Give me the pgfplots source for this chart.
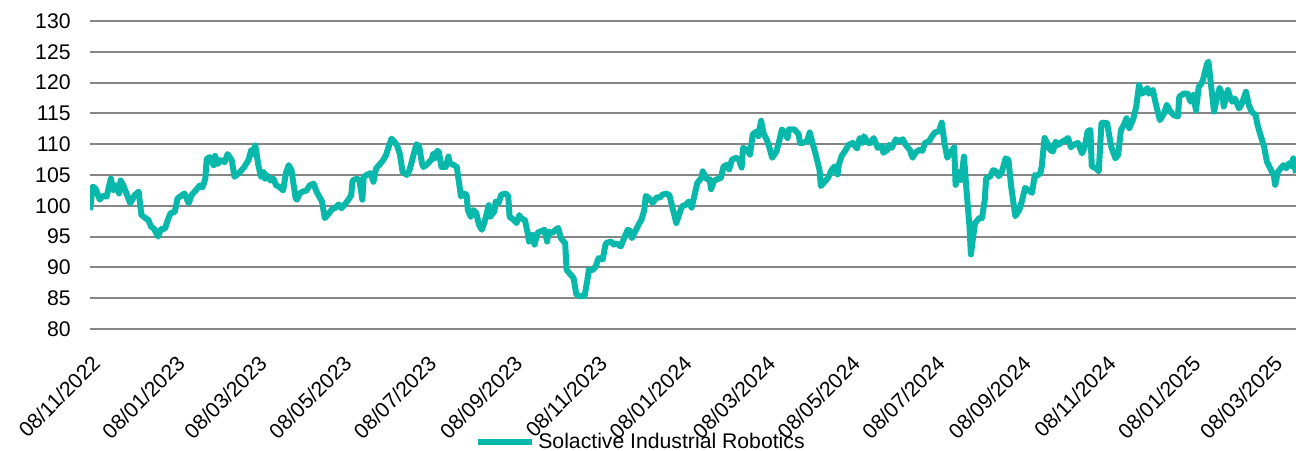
\documentclass[border=0pt]{standalone}
\usepackage{pgfplots}
\pgfplotsset{compat=1.18}
\usepackage{fontspec}
\setmainfont{Liberation Sans}
\definecolor{lineteal}{RGB}{8,184,171}
\definecolor{gridgray}{RGB}{134,134,134}
\begin{document}
\fontsize{10.6pt}{12pt}\selectfont
\begin{tikzpicture}
\begin{axis}[
  scale only axis,
  width=603pt, height=154pt,
  xmin=0, xmax=868, ymin=80, ymax=130,
  ytick={80,85,...,130},
  xtick={0,61,120,181,242,304,365,426,486,547,608,670,731,792,851},
  xticklabels={08/11/2022,08/01/2023,08/03/2023,08/05/2023,08/07/2023,08/09/2023,08/11/2023,08/01/2024,08/03/2024,08/05/2024,08/07/2024,08/09/2024,08/11/2024,08/01/2025,08/03/2025},
  ymajorgrids,
  grid style={gridgray, line width=1pt},
  axis line style={draw=none},
  major tick length=0pt,
  /pgf/number format/assume math mode=true,
  tick label style={font=\fontsize{10.6pt}{12pt}\selectfont},
  yticklabel style={anchor=east, inner sep=0pt, xshift=-9.5pt},
  xticklabel style={rotate=45, anchor=east, inner sep=0pt, yshift=-13pt, xshift=-8.5pt},
  legend style={draw=none, fill=none, at={(0.3192,-0.367)}, anchor=west, inner sep=0pt,
    font=\fontsize{10.6pt}{12pt}\selectfont, nodes={inner sep=1.5pt}},
  legend image code/.code={\draw[#1, line width=3pt] (0pt,0pt) -- (27pt,0pt);},
]
\addplot[lineteal, line width=3pt, line join=round] table {
0 99.3
2 103.1
4 102.8
7 101.0
9 101.6
12 101.5
15 104.4
17 102.5
19 103.3
21 102.0
22 104.1
24 103.3
29 100.4
32 101.7
35 102.3
37 98.5
40 98.0
42 97.7
44 96.6
46 96.3
49 95.0
51 96.2
54 96.3
56 97.7
58 98.8
61 99.0
63 101.2
66 101.7
68 102.0
71 100.4
73 101.7
76 102.5
79 103.3
81 103.0
83 104.4
84 107.6
86 107.9
89 106.6
90 108.1
92 106.8
94 107.4
97 107.1
99 108.4
102 107.4
104 104.7
108 105.5
111 106.3
114 107.4
116 109.0
117 108.4
119 109.8
121 106.8
123 104.7
125 105.5
126 104.4
127 105.0
130 104.1
132 104.4
134 103.3
136 103.1
139 102.5
141 105.3
143 106.6
145 105.8
148 101.2
149 101.0
151 102.0
153 102.3
156 102.5
158 103.3
161 103.6
163 102.3
165 101.5
167 100.7
169 98.0
171 98.5
174 99.4
176 99.6
179 100.2
181 99.6
184 100.4
186 101.0
188 101.7
189 104.1
192 104.4
194 104.1
196 101.0
197 104.7
199 105.0
202 105.3
204 103.9
206 106.1
208 106.6
211 107.4
213 108.2
215 109.6
217 110.9
219 110.4
221 109.8
223 108.4
225 105.5
228 105.0
230 105.8
233 108.4
235 110.0
237 109.5
239 106.8
240 106.3
243 106.8
246 107.6
247 108.4
248 107.7
250 108.9
251 108.8
253 106.3
256 106.3
258 108.0
259 106.9
262 106.6
264 106.3
266 103.1
267 101.5
269 102.0
271 101.8
272 99.3
274 98.2
276 99.3
278 98.8
280 96.9
282 96.1
284 97.4
287 100.1
288 98.2
291 99.1
292 100.7
294 100.4
296 101.8
299 102.0
301 101.6
302 98.2
305 97.7
307 97.2
309 98.5
310 98.0
313 97.7
315 95.6
316 94.2
318 95.3
320 93.7
322 95.6
324 95.8
327 96.1
329 94.2
330 95.8
333 95.6
335 96.1
337 96.4
339 94.7
342 93.9
343 89.6
346 88.8
348 88.3
350 85.6
353 85.3
356 85.4
358 88.0
359 89.6
362 89.6
364 90.2
366 91.5
369 91.3
371 93.7
372 94.0
375 94.2
377 93.7
379 93.9
382 93.4
385 95.1
387 96.1
389 95.9
390 94.8
393 96.1
395 97.0
397 97.8
399 99.4
400 101.6
402 101.3
405 100.5
408 101.4
410 101.3
412 101.8
415 102.0
417 101.7
419 99.9
422 97.2
424 98.6
426 99.9
429 100.2
431 100.7
433 99.7
436 102.6
437 103.7
440 104.5
441 105.6
444 104.3
446 104.3
447 102.7
449 104.0
451 104.3
454 104.5
456 106.4
459 106.7
460 105.9
462 107.5
465 107.8
467 107.5
469 106.2
470 109.4
473 109.1
475 108.3
477 111.6
480 112.1
481 111.3
483 113.8
485 111.6
487 110.8
489 109.4
491 107.8
494 108.8
496 110.5
498 112.4
500 111.9
502 111.0
503 112.4
507 112.4
510 111.6
511 110.2
513 110.2
516 110.5
518 111.9
520 110.2
522 108.6
525 105.9
526 103.2
528 103.7
531 104.5
534 105.9
536 106.4
538 105.1
539 106.7
541 108.1
544 109.1
546 109.9
549 110.2
552 109.3
554 111.0
556 110.2
557 111.3
560 110.2
562 110.2
564 111.0
567 109.4
570 109.7
571 108.6
574 109.1
575 109.9
577 109.4
580 110.8
582 110.5
585 110.8
587 109.9
590 109.1
592 107.8
594 108.6
597 109.1
599 108.9
601 110.2
604 110.5
606 111.3
608 111.9
611 112.1
613 113.5
615 110.2
617 107.8
622 109.5
623 103.4
626 105.5
627 104.2
629 108.0
631 102.1
633 96.6
634 92.1
636 95.6
637 97.2
640 98.0
642 98.0
644 101.0
645 104.5
648 104.8
650 105.8
652 105.6
654 104.8
656 105.3
657 106.1
659 107.7
661 107.5
663 103.1
666 98.3
669 99.4
671 101.0
673 102.9
675 102.6
678 102.1
680 105.0
681 104.8
684 105.3
685 106.4
687 111.0
689 110.2
691 109.1
693 108.8
695 110.4
697 109.9
699 110.3
702 110.7
704 111.0
706 109.5
708 109.9
711 110.2
714 108.5
716 109.6
718 112.1
720 112.3
721 106.4
724 106.1
726 105.6
728 113.4
729 113.5
732 113.4
735 109.6
738 107.7
740 108.3
742 112.3
744 113.1
746 114.2
748 112.6
751 114.2
753 116.1
755 119.6
757 118.2
759 118.5
761 119.1
762 118.2
765 118.8
767 116.6
770 113.9
773 115.0
775 116.4
777 115.5
780 114.7
783 114.5
784 117.7
787 118.2
790 118.2
792 116.9
794 118.0
796 115.5
798 119.3
800 119.9
801 120.4
804 123.1
805 123.4
807 119.3
809 115.3
811 117.4
813 119.1
815 118.0
816 116.1
819 118.8
820 118.0
822 116.9
824 117.4
827 115.8
829 116.6
832 118.5
834 116.4
836 115.3
839 114.7
840 113.4
842 111.8
845 109.6
847 107.2
850 105.8
852 105.0
853 103.4
855 105.5
857 106.1
859 106.6
861 106.1
863 106.9
865 106.4
866 107.7
868 105.3
};
\addlegendentry{Solactive Industrial Robotics}
\end{axis}
\pgfresetboundingbox
\path[use as bounding box] ([xshift=-45pt,yshift=-60.5pt]current axis.south west) rectangle ([yshift=10.5pt]current axis.north east);
\end{tikzpicture}
\end{document}
